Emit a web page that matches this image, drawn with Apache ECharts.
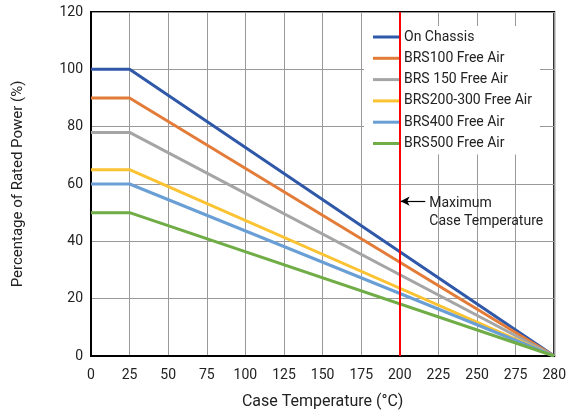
<!DOCTYPE html>
<html><head><meta charset="utf-8">
<script src="https://cdn.jsdelivr.net/npm/echarts@6/dist/echarts.min.js"></script>
<style>html,body{margin:0;padding:0;background:#fff}#c{width:569px;height:418px}</style>
</head><body><div id="c"></div>
<script>
const seriesNames = ['On Chassis','BRS100 Free Air','BRS 150 Free Air','BRS200-300 Free Air','BRS400 Free Air','BRS500 Free Air'];
const ratedAt25 = [100, 90, 78, 65, 60, 50];
const xTicks = ['0','25','50','75','100','125','150','175','200','225','250','275','280'];
const colors = ['#2f58a9','#e27c38','#a5a5a5','#fbc232','#6a9fd6','#70ad47'];
const maxCaseTemp = '200';
const annotationY = 54;
const annotationArrowStart = 8.02;  // position along the tick sequence (index units)
const annotationArrowEnd = 8.66;

const FONT = "Roboto, 'Liberation Sans', sans-serif";
const chart = echarts.init(document.getElementById('c'), null, {renderer:'canvas'});

// each curve: flat at rated value from 0 to 25, then straight to 0 at 280
function curve(v){
  return xTicks.map((t,i)=> t==='0'||t==='25' ? v : (t==='280' ? 0 : null));
}

const series = seriesNames.map((n,i)=>({
  name:n, type:'line', symbol:'none', z:3, connectNulls:true,
  lineStyle:{width:3,color:colors[i]}, itemStyle:{color:colors[i]},
  data: curve(ratedAt25[i])
}));
series.push({
  name:'maxline', type:'line', data:[], z:2,
  markLine:{
    silent:true, animation:false, symbol:'none',
    data:[ {xAxis:maxCaseTemp} ],
    lineStyle:{color:'#ff0000',width:2,type:'solid'},
    label:{show:false}
  }
});
series.push({
  name:'annot', type:'line', data:[], z:5, xAxisIndex:1,
  markLine:{
    silent:true, animation:false, symbolSize:[7,9],
    data:[
      [{coord:[annotationArrowStart,annotationY],symbol:'arrow'},{coord:[annotationArrowEnd,annotationY],symbol:'none'}]
    ],
    lineStyle:{color:'#000',width:1.2,type:'solid'},
    label:{show:true,position:'end',formatter:'Maximum\nCase Temperature',
      fontFamily:FONT,fontSize:14,color:'#222',lineHeight:18,align:'left',verticalAlign:'top',
      distance:4, padding:[-7,0,0,0]}
  }
});

chart.setOption({
  animation:false,
  color:colors,
  grid:{left:91,right:11,top:12,bottom:62,show:true,borderColor:'#000',borderWidth:2},
  legend:{
    data:seriesNames, orient:'vertical', left:364, top:26,
    backgroundColor:'#fff', borderWidth:0,
    padding:[3,8,3,9],
    icon:'rect', itemWidth:26, itemHeight:3, itemGap:5.3,
    textStyle:{fontFamily:FONT,fontSize:14,color:'#222',lineHeight:16}
  },
  xAxis:[{
    type:'category', data:xTicks, boundaryGap:false,
    name:'Case Temperature (°C)', nameLocation:'middle', nameGap:38,
    nameTextStyle:{fontFamily:FONT,fontSize:16,color:'#222'},
    axisLine:{show:true,lineStyle:{color:'#000',width:2}},
    axisTick:{show:false},
    axisLabel:{fontFamily:FONT,fontSize:14,color:'#222',margin:12,interval:0},
    splitLine:{show:true,interval:0,lineStyle:{color:'#999',width:1}}
  },{
    type:'value', min:0, max:xTicks.length-1, show:false
  }],
  yAxis:{
    type:'value', min:0, max:120, interval:20,
    name:'Percentage of Rated Power (%)', nameLocation:'middle', nameGap:65,
    nameTextStyle:{fontFamily:FONT,fontSize:15,color:'#222'},
    axisLine:{show:true,lineStyle:{color:'#000',width:2}},
    axisTick:{show:false},
    axisLabel:{fontFamily:FONT,fontSize:14,color:'#222',margin:8},
    splitLine:{show:true,lineStyle:{color:'#999',width:1}}
  },
  series:series
});
</script></body></html>
